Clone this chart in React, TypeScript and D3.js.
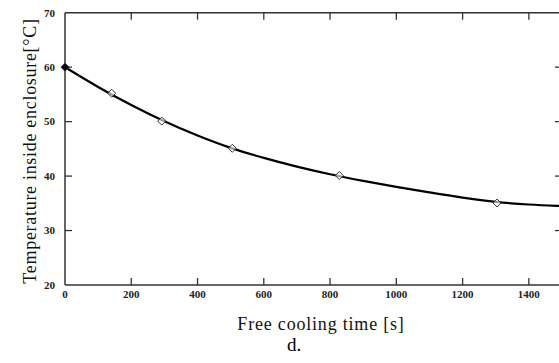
import React from "react";
import * as d3 from "d3";

const xTicks = [0, 200, 400, 600, 800, 1000, 1200, 1400];
const yTicks = [20, 30, 40, 50, 60, 70];
const curveTime = [0, 100, 200, 300, 400, 500, 600, 700, 800, 900, 1000, 1100, 1200, 1300, 1400, 1500];
const curveTemp = [60, 56.3, 53.0, 50.0, 47.4, 45.1, 43.3, 41.7, 40.3, 39.1, 38.0, 37.0, 36.0, 35.2, 34.75, 34.5];
const markTime = [0, 141, 292, 505, 828, 1304];
const markTemp = [60, 55.2, 50.1, 45.1, 40.1, 35.05];

const W = 559, H = 363;
const L = 65, R = 562, T = 12.7, B = 285;

export default function App() {
  const x = d3.scaleLinear().domain([0, 1500]).range([L, R]);
  const y = d3.scaleLinear().domain([20, 70]).range([B, T]);
  const line = d3.line<number>().x((_, i) => x(curveTime[i])).y((d) => y(d)).curve(d3.curveBasis);
  const tickLen = 7;
  const axisColor = "#333";
  const font = "'Liberation Serif', 'Times New Roman', serif";
  return (
    <svg width={W} height={H} style={{ position: "absolute", left: 0, top: 0, background: "#fff" }}>
      <rect x={0} y={0} width={W} height={H} fill="#fff" />
      <line x1={L} x2={R} y1={B} y2={B} stroke={axisColor} strokeWidth={1.5} />
      <line x1={L} x2={R} y1={T} y2={T} stroke={axisColor} strokeWidth={1.5} />
      <line x1={L} x2={L} y1={T} y2={B} stroke={axisColor} strokeWidth={1.5} />
      <line x1={R} x2={R} y1={T} y2={B} stroke={axisColor} strokeWidth={1.5} />
      {xTicks.filter((t) => t > 0).map((t) => (
        <g key={"xt" + t}>
          <line x1={x(t)} x2={x(t)} y1={B} y2={B - tickLen} stroke={axisColor} strokeWidth={1.3} />
          <line x1={x(t)} x2={x(t)} y1={T} y2={T + tickLen} stroke={axisColor} strokeWidth={1.3} />
        </g>
      ))}
      {yTicks.filter((t) => t > 20 && t < 70).map((t) => (
        <g key={"yt" + t}>
          <line x1={L} x2={L + tickLen} y1={y(t)} y2={y(t)} stroke={axisColor} strokeWidth={1.3} />
          <line x1={R} x2={R - tickLen} y1={y(t)} y2={y(t)} stroke={axisColor} strokeWidth={1.3} />
        </g>
      ))}
      {xTicks.map((t) => (
        <text key={"xl" + t} x={x(t)} y={B + 13} textAnchor="middle" fontFamily={font} fontSize={11} fontWeight="bold" fill="#222">
          {t}
        </text>
      ))}
      {yTicks.map((t) => (
        <text key={"yl" + t} x={L - 10} y={y(t)} dy="0.35em" textAnchor="end" fontFamily={font} fontSize={11} fontWeight="bold" fill="#222">
          {t}
        </text>
      ))}
      <path d={line(curveTemp) || ""} fill="none" stroke="#000" strokeWidth={2.2} />
      {markTime.map((t, i) => {
        const cx = x(t), cy = y(markTemp[i]), s = 4;
        return (
          <path
            key={"m" + i}
            d={`M${cx},${cy - s}L${cx + s},${cy}L${cx},${cy + s}L${cx - s},${cy}Z`}
            fill={i === 0 ? "#000" : "#fff"}
            fillOpacity={i === 0 ? 1 : 0.6}
            stroke="#333"
            strokeWidth={1}
          />
        );
      })}
      <text x={321} y={330} textAnchor="middle" fontFamily={font} fontSize={18} letterSpacing={0.8} fill="#111">
        Free cooling time [s]
      </text>
      <text x={294} y={351} textAnchor="middle" fontFamily={font} fontSize={19} fill="#000">
        d.
      </text>
      <text
        transform={`translate(36,151) rotate(-90)`}
        textAnchor="middle"
        fontFamily={font}
        fontSize={18}
        letterSpacing={0.7}
        fill="#111"
      >
        Temperature inside enclosure[°C]
      </text>
    </svg>
  );
}
